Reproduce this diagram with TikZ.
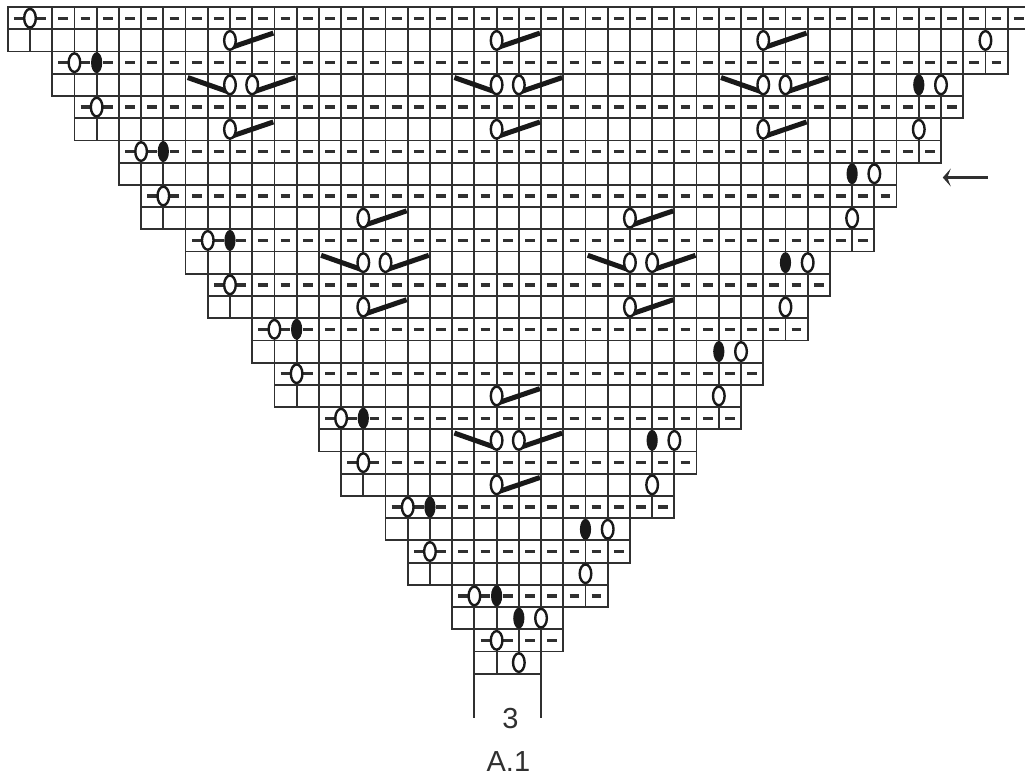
\documentclass[tikz,border=0pt]{standalone}
\usepackage{fontspec}
\setmainfont{Liberation Sans}
\usetikzlibrary{arrows.meta}
\definecolor{ink}{HTML}{303030}
\tikzset{
  gridline/.style={draw=ink,line width=1.8pt},
  purl/.style={draw=ink,line width=3.3pt},
  bar/.style={draw=black!90,line width=5pt},
  yarnover/.style={draw=black!90,fill=white,line width=2.4pt},
  solid dot/.style={fill=black!90},
  legline/.style={draw=ink,line width=2pt},
  caption/.style={font=\fontsize{29}{32}\selectfont,text=ink,inner sep=0pt}
}
\newcommand{\yo}[2]{\path[yarnover] (#2,#1+.5) ellipse [x radius=5.8pt,y radius=9.3pt];}
\newcommand{\sd}[2]{\path[solid dot] (#2,#1+.5) ellipse [x radius=5.6pt,y radius=10.5pt];}
\begin{document}
\begin{tikzpicture}[x=22.22pt,y=-22.22pt]
\useasboundingbox (-0.35,-0.32) rectangle (45.78,34.6);
\begin{scope}
\clip (-0.35,-0.32) rectangle (45.78,34.6);
% rows: row / left grid line / right grid line
\foreach \r/\a/\b in {0/0/46,1/0/45,2/2/45,3/2/43,4/3/43,5/3/42,6/5/42,7/5/40,8/6/40,9/6/39,
  10/8/39,11/8/37,12/9/37,13/9/36,14/11/36,15/11/34,16/12/34,17/12/33,18/14/33,19/14/31,
  20/15/31,21/15/30,22/17/30,23/17/28,24/18/28,25/18/27,26/20/27,27/20/25,28/21/25,29/21/24}{
  \draw[gridline] (\a,\r) rectangle (\b,\r+1);
  \foreach \j in {\a,...,\b}{\draw[gridline] (\j,\r) -- (\j,\r+1);}
}
% purl dashes on the even rows
\foreach \r/\a/\b in {0/0/46,2/2/45,4/3/43,6/5/42,8/6/40,10/8/39,12/9/37,14/11/36,16/12/34,
  18/14/33,20/15/31,22/17/30,24/18/28,26/20/27,28/21/25}{
  \pgfmathtruncatemacro{\last}{\b-1}
  \foreach \j in {\a,...,\last}{\draw[purl] (\j+.28,\r+.5) -- (\j+.72,\r+.5);}
}
% bars leaning right
\foreach \r/\j in {1/10,1/22,1/34,3/11,3/23,3/35,5/10,5/22,5/34,9/16,9/28,11/17,11/29,13/16,13/28,17/22,19/23,21/22}{
  \draw[bar] (\j+.1,\r+.8) -- (\j+1.95,\r+.17);
}
% bars leaning left
\foreach \r/\j in {3/10,3/22,3/34,11/16,11/28,19/22}{
  \draw[bar] (\j-.05,\r+.82) -- (\j-1.9,\r+.17);
}
\end{scope}
% yarn overs
\foreach \r/\j in {0/1,1/10,1/22,1/34,1/44,2/3,3/10,3/11,3/22,3/23,3/34,3/35,3/42,4/4,5/10,5/22,5/34,5/41,
  6/6,7/39,8/7,9/16,9/28,9/38,10/9,11/16,11/17,11/28,11/29,11/36,12/10,13/16,13/28,13/35,
  14/12,15/33,16/13,17/22,17/32,18/15,19/22,19/23,19/30,20/16,21/22,21/29,22/18,23/27,24/19,25/26,
  26/21,27/24,28/22,29/23}{\yo{\r}{\j}}
% solid dots
\foreach \r/\j in {2/4,3/41,6/7,7/38,10/10,11/35,14/13,15/32,18/16,19/29,22/19,23/26,26/22,27/23}{\sd{\r}{\j}}
% bracket of the repeat
\coordinate (legLeftTop) at (21,30);
\coordinate (legLeftEnd) at (21,32);
\coordinate (legRightTop) at (24,30);
\coordinate (legRightEnd) at (24,32);
\draw[legline] (legLeftTop) -- (legLeftEnd);
\draw[legline] (legRightTop) -- (legRightEnd);
\node[caption] (repeatCount) at (22.62,32) {3};
\node[caption] (chartName) at (22.53,33.95) {A.1};
% arrow
\coordinate (arrowTail) at (44.1,7.67);
\coordinate (arrowTip) at (42.08,7.67);
\draw[draw=ink,line width=2.2pt,-{Stealth[length=8pt,width=18pt,inset=3.5pt]}] (arrowTail) -- (arrowTip);
\end{tikzpicture}
\end{document}
